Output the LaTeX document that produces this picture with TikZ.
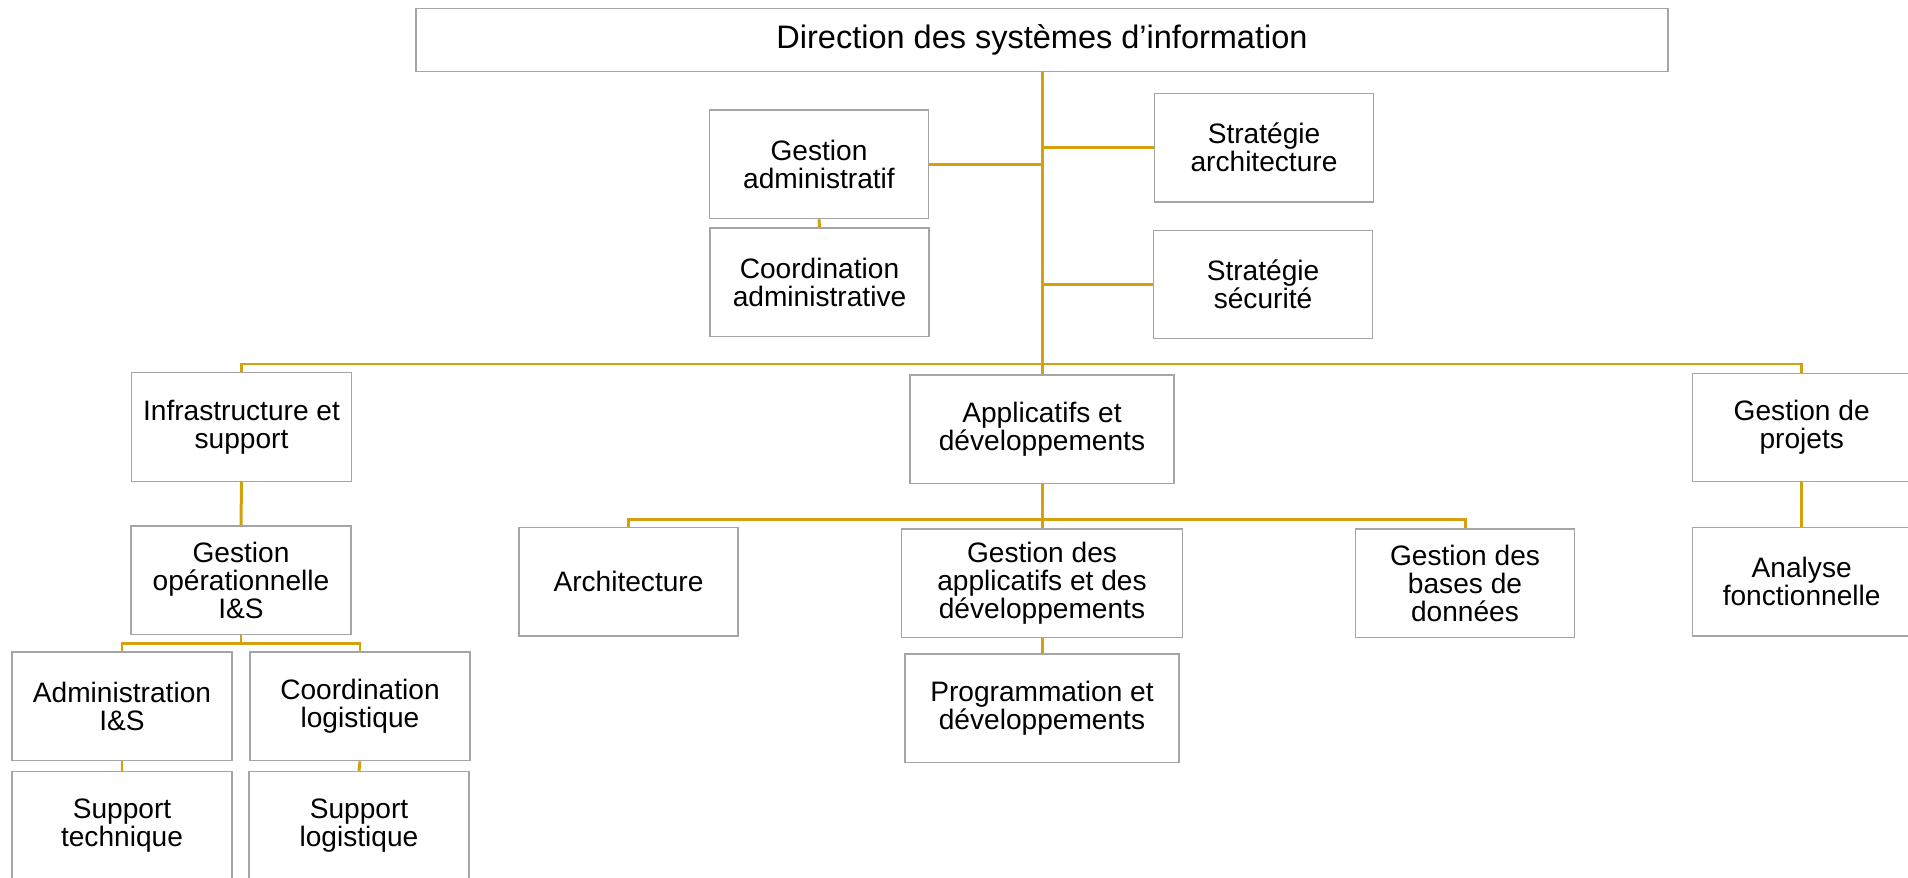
\documentclass[tikz,border=0pt]{standalone}
\usepackage{fontspec}
\setmainfont{Liberation Sans}
\usepackage{tikz}
\usetikzlibrary{positioning,calc}
\definecolor{orgline}{RGB}{212,161,12}
\definecolor{orgframe}{RGB}{165,165,165}

\begin{document}
\begin{tikzpicture}[x=0.02cm, y=-0.02cm,
  unit/.style={rectangle, draw=orgframe, line width=0.8pt, fill=white, align=center, inner sep=0pt, minimum width=4.38cm, minimum height=2.17cm, font=\fontsize{16}{15.9}\selectfont},
  wideunit/.style={unit, minimum width=#1},
  link/.style={draw=orgline, line width=1.7pt}]
	\useasboundingbox (0,0) rectangle (1908,878);
	\clip (0,0) rectangle (1908,878);
	\fill[white] (0,0) rectangle (1908,878);

	\node[wideunit=25.05cm, minimum height=1.27cm, font=\fontsize{18.5}{20}\selectfont] (dsi) at (1042,40) {Direction des systèmes d’information};

	\node[unit] (gadm) at (819,164.3) {Gestion\\administratif};
	\node[unit] (cadm) at (819.5,282.3) {Coordination\\administrative};
	\node[unit] (sarch) at (1264,147.7) {Stratégie\\architecture};
	\node[unit] (ssec) at (1263,284.5) {Stratégie\\sécurité};

	\node[unit, minimum width=4.40cm] (infra) at (241.5,427) {Infrastructure et\\support};
	\node[unit, minimum width=4.40cm] (gop) at (241,580.3) {Gestion\\opérationnelle\\I\&S};
	\node[unit, minimum width=4.40cm] (adm) at (122,706.4) {Administration\\I\&S};
	\node[unit, minimum width=4.40cm] (clog) at (360,706.4) {Coordination\\logistique};
	\node[unit, minimum width=4.40cm] (stech) at (122,825.7) {Support\\technique};
	\node[unit, minimum width=4.40cm] (slog) at (359,825.7) {Support\\logistique};

	\node[wideunit=5.28cm] (appdev) at (1042,429.3) {Applicatifs et\\développements};
	\node[unit] (archi) at (628.5,581.7) {Architecture};
	\node[wideunit=5.63cm] (gappdev) at (1042,583.2) {Gestion des\\applicatifs et des\\développements};
	\node[wideunit=5.48cm] (prog) at (1042,708.3) {Programmation et\\développements};
	\node[unit] (bdd) at (1465,583.3) {Gestion des\\bases de\\données};

	\node[unit] (proj) at (1801.7,427.5) {Gestion de\\projets};
	\node[unit] (afonc) at (1801.7,581.8) {Analyse\\fonctionnelle};

	% liaisons
	\draw[link] (dsi.south) -- (appdev.north);
	\draw[link] (gadm.east) -- (gadm.east -| dsi.south);
	\draw[link] (sarch.west) -- (sarch.west -| dsi.south);
	\draw[link] (ssec.west) -- (ssec.west -| dsi.south);
	\draw[link] (gadm.south) -- (cadm.north);

	\coordinate (mainbus) at (1042,364);
	\draw[link] (infra.north) |- (mainbus) -| (proj.north);

	\draw[link] (infra.south) -- (gop.north);
	\coordinate (isbus) at (241,643.6);
	\draw[link] (adm.north) |- (isbus) -| (clog.north);
	\draw[link] (gop.south) -- (isbus);
	\draw[link] (adm.south) -- (stech.north);
	\draw[link] (clog.south) -- (slog.north);

	\coordinate (adbus) at (1042,519.3);
	\draw[link] (archi.north) |- (adbus) -| (bdd.north);
	\draw[link] (appdev.south) -- (gappdev.north);
	\draw[link] (gappdev.south) -- (prog.north);

	\draw[link] (proj.south) -- (afonc.north);
\end{tikzpicture}
\end{document}
